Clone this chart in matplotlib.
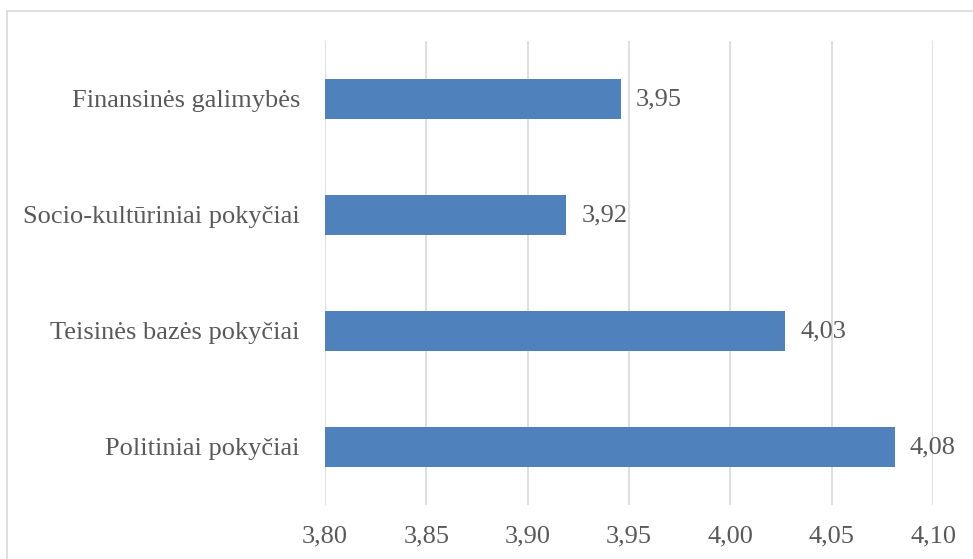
import matplotlib
matplotlib.use("Agg")
import matplotlib.pyplot as plt
from matplotlib.patches import Rectangle

# Vertinimų vidurkiai (iš apačios į viršų)
kategorijos = ["Politiniai pokyčiai", "Teisinės bazės pokyčiai",
               "Socio-kultūriniai pokyčiai", "Finansinės galimybės"]
vidurkiai = [4.081, 4.027, 3.919, 3.946]
x_ticks = [3.80, 3.85, 3.90, 3.95, 4.00, 4.05, 4.10]

spalva = "#4f81bd"
tekstas = "#595959"
tinklelis = "#d9d9d9"

plt.rcParams["font.family"] = ["Liberation Serif", "DejaVu Serif"]

fig = plt.figure(figsize=(9.73, 5.59), dpi=100)
ax = fig.add_axes([0.334, 0.0966, 0.625, 0.8301])

y = list(range(len(kategorijos)))
ax.barh(y, vidurkiai, height=0.353, color=spalva, zorder=3)

for yi, v in zip(y, vidurkiai):
    ax.text(v + 0.0075, yi, f"{v:.2f}".replace(".", ","), va="center", ha="left",
            fontsize=19, color=tekstas)

ax.set_xlim(3.80, 4.10)
ax.set_ylim(-0.5, len(kategorijos) - 0.5)
ax.set_xticks(x_ticks)
ax.set_xticklabels([f"{t:.2f}".replace(".", ",") for t in x_ticks])
ax.set_yticks(y)
ax.set_yticklabels(kategorijos)

ax.tick_params(axis="both", length=0, labelsize=19, colors=tekstas)
ax.tick_params(axis="x", pad=15)
ax.tick_params(axis="y", pad=18)
ax.xaxis.grid(True, color=tinklelis, linewidth=1.2, zorder=0)
for s in ax.spines.values():
    s.set_visible(False)

# rėmelis aplink diagramą
fig.patches.append(Rectangle((0.0072, -0.1), 1.2, 1.0803, transform=fig.transFigure,
                             fill=False, edgecolor=tinklelis, linewidth=1.2))

fig.savefig("out.png", dpi=100)
